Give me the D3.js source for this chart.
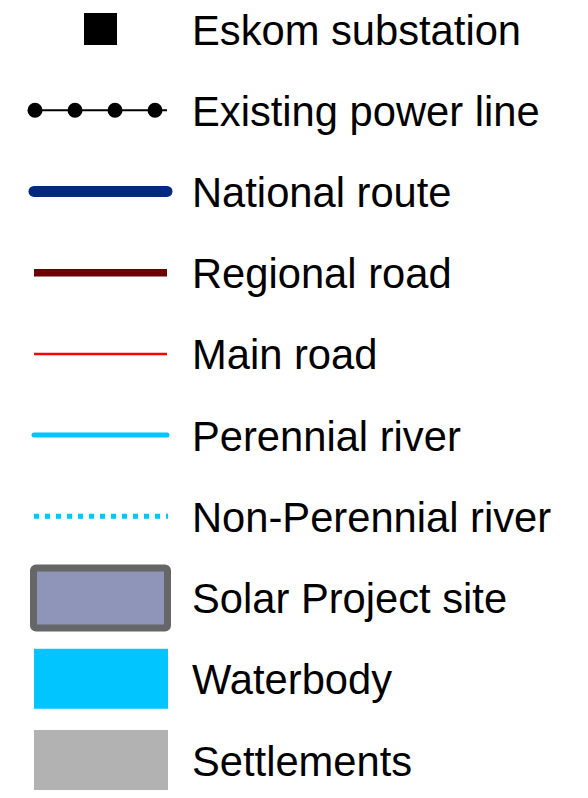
<!DOCTYPE html>
<html>
<head>
<meta charset="utf-8">
<script src="https://cdn.jsdelivr.net/npm/d3@7"></script>
<style>
  html, body { margin: 0; padding: 0; background: #ffffff; }
  svg { display: block; }
</style>
</head>
<body>
<script>
const labels = ["Eskom substation", "Existing power line", "National route", "Regional road", "Main road", "Perennial river", "Non-Perennial river", "Solar Project site", "Waterbody", "Settlements"];
const symbolTypes = ["square", "powerline", "line", "line", "line", "line", "dotted", "outlinedRect", "rect", "rect"];
const symbolColors = ["#000000", "#000000", "#002a7a", "#6e0000", "#ff0000", "#00c5ff", "#00c5ff", "#8f95b8", "#00c5ff", "#b2b2b2"];
const strokeWidths = [0, 2, 11, 7.5, 2.5, 5, 5, 7, 0, 0];

const W = 588, H = 798;
const svg = d3.select("body").append("svg").attr("width", W).attr("height", H);

const y = d3.scalePoint().domain(d3.range(labels.length)).range([29, 760]);
const x0 = 34, x1 = 167;

labels.forEach((lab, i) => {
  const cy = y(i);
  const t = symbolTypes[i], c = symbolColors[i], sw = strokeWidths[i];
  const g = svg.append("g");
  if (t === "square") {
    g.append("rect").attr("x", 84).attr("y", cy - 16).attr("width", 33).attr("height", 32).attr("fill", c);
  } else if (t === "powerline") {
    g.append("line").attr("x1", 28).attr("x2", 167).attr("y1", cy).attr("y2", cy)
      .attr("stroke", c).attr("stroke-width", sw);
    [35, 75, 115, 155].forEach(px => {
      g.append("circle").attr("cx", px).attr("cy", cy).attr("r", 7.5).attr("fill", c);
    });
  } else if (t === "line") {
    const round = (i === 2 || i === 5);
    g.append("line").attr("x1", x0).attr("x2", x1).attr("y1", cy).attr("y2", cy)
      .attr("stroke", c).attr("stroke-width", sw)
      .attr("stroke-linecap", round ? "round" : "butt");
  } else if (t === "dotted") {
    g.append("line").attr("x1", x0).attr("x2", x1 + 1).attr("y1", cy).attr("y2", cy)
      .attr("stroke", c).attr("stroke-width", sw)
      .attr("stroke-dasharray", "5,6");
  } else if (t === "outlinedRect") {
    g.append("rect").attr("x", 33.5).attr("y", cy - 29.5).attr("width", 134).attr("height", 60)
      .attr("rx", 2.5).attr("fill", c).attr("stroke", "#666666").attr("stroke-width", sw);
  } else if (t === "rect") {
    g.append("rect").attr("x", 34).attr("y", cy - 30).attr("width", 134).attr("height", 60).attr("fill", c);
  }
  svg.append("text").attr("x", 192).attr("y", cy + 15.5)
    .attr("font-family", "'Liberation Sans', Arial, sans-serif")
    .attr("font-size", 41.7).attr("fill", "#000000").text(lab);
});
</script>
</body>
</html>
